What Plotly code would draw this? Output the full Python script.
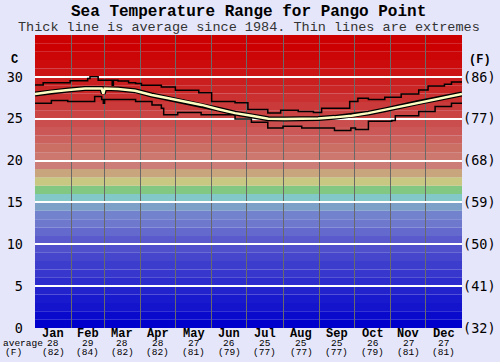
import plotly.graph_objects as go

# ---- data ----
months = ["Jan", "Feb", "Mar", "Apr", "May", "Jun", "Jul", "Aug", "Sep", "Oct", "Nov", "Dec"]
month_starts = [0, 31, 59, 90, 120, 151, 181, 212, 243, 273, 304, 334, 365]
avg_c = [28, 29, 28, 28, 27, 26, 25, 25, 25, 26, 27, 27]
avg_f = [82, 84, 82, 82, 81, 79, 77, 77, 77, 79, 81, 81]

avg_days = [0, 14, 28.5, 42.7, 57, 58.4, 59.5, 71, 85.5, 99.7, 114, 128, 142.5, 156.7, 171,
            185, 199.4, 213.7, 228, 242, 256, 270.7, 285, 299, 313.4, 327.6, 342, 356, 365]
avg_vals = [27.95, 28.23, 28.43, 28.62, 28.62, 28.0, 28.6, 28.54, 28.35, 27.83, 27.44, 27.05, 26.65,
            26.14, 25.67, 25.35, 25.0, 24.96, 24.96, 25.04, 25.16, 25.35, 25.67, 26.06, 26.54,
            26.93, 27.32, 27.72, 27.95]

max_days = [0, 7, 30, 45, 47, 54, 66, 67, 71, 80, 86, 91, 108, 120, 140, 151, 171, 182, 199,
            210, 225, 238, 245, 269, 276, 285, 299, 313, 328, 336, 350, 356, 365]
max_vals = [29.02, 29.3, 29.53, 29.8, 30.0, 29.6, 29.0, 29.6, 29.5, 29.3, 29.2, 29.0, 28.8, 28.4,
            28.1, 27.05, 26.9, 26.1, 25.67, 26.0, 25.87, 25.75, 26.26, 27.05, 27.44, 27.3, 27.56,
            27.95, 28.43, 28.9, 29.13, 29.4, 29.3]

min_days = [0, 14, 28, 51, 57, 58.4, 59.5, 66, 86, 100, 108, 110, 122, 142, 171, 185, 199, 212,
            228, 256, 270, 274, 285, 305, 308, 328, 342, 356, 365]
min_vals = [26.85, 27.17, 27.05, 27.64, 27.3, 26.85, 27.3, 27.3, 27.05, 26.65, 26.26, 25.47, 25.75,
            25.47, 24.96, 24.57, 23.9, 24.1, 23.9, 23.6, 23.9, 23.7, 24.7, 24.8, 25.35, 25.87,
            26.46, 26.85, 26.93]

c_ticks = [0, 5, 10, 15, 20, 25, 30]
f_ticks = ["(32)", "(41)", "(50)", "(59)", "(68)", "(77)", "(86)"]

band_colors = [
    (0, 0, 205), (10, 10, 205), (20, 20, 205), (25, 25, 205), (35, 35, 205), (45, 45, 205),
    (55, 55, 205), (60, 60, 205), (70, 70, 205), (80, 80, 205), (90, 90, 205), (100, 105, 205),
    (110, 120, 205), (115, 130, 205), (125, 160, 200), (130, 200, 200), (130, 200, 130),
    (200, 200, 130), (200, 165, 125), (205, 125, 120), (205, 120, 110), (203, 110, 100),
    (203, 98, 93), (203, 88, 86), (203, 78, 78), (203, 68, 68), (203, 58, 58), (203, 48, 48),
    (203, 38, 38), (203, 30, 30), (204, 20, 20), (204, 12, 12), (204, 6, 6), (204, 0, 0),
    (204, 0, 0)]

MONO = "Liberation Mono"
TOP = 35

fig = go.Figure()

shapes = []
for i, (r, g, b) in enumerate(band_colors):
    shapes.append(dict(type="rect", xref="x", yref="y", x0=0, x1=365, y0=i, y1=i + 1,
                       fillcolor=f"rgb({r},{g},{b})", line_width=0, layer="below"))

fig.add_trace(go.Scatter(x=max_days, y=max_vals, mode="lines", line=dict(color="black", width=1.5, shape="hv"),
                         hoverinfo="skip", showlegend=False))
fig.add_trace(go.Scatter(x=min_days, y=min_vals, mode="lines", line=dict(color="black", width=1.5, shape="hv"),
                         hoverinfo="skip", showlegend=False))
fig.add_trace(go.Scatter(x=avg_days, y=avg_vals, mode="lines", line=dict(color="black", width=5),
                         hoverinfo="skip", showlegend=False))
fig.add_trace(go.Scatter(x=avg_days, y=avg_vals, mode="lines", line=dict(color="rgb(255,255,195)", width=2.5),
                         hoverinfo="skip", showlegend=False))
# dummy trace for right axis
fig.add_trace(go.Scatter(x=[0], y=[0], yaxis="y2", mode="markers", marker=dict(opacity=0),
                         hoverinfo="skip", showlegend=False))

annotations = []
for i, m in enumerate(months):
    mid = (month_starts[i] + month_starts[i + 1]) / 2
    annotations.append(dict(x=mid, y=-0.019, xref="x", yref="paper", text=f"<b>{m}</b>", showarrow=False,
                            font=dict(family=MONO, size=12, color="black"), yanchor="middle"))
    annotations.append(dict(x=mid, y=-0.054, xref="x", yref="paper", text=str(avg_c[i]), showarrow=False,
                            font=dict(family=MONO, size=9.5, color="black"), yanchor="middle"))
    annotations.append(dict(x=mid, y=-0.085, xref="x", yref="paper", text=f"({avg_f[i]})", showarrow=False,
                            font=dict(family=MONO, size=9.5, color="black"), yanchor="middle"))
annotations.append(dict(x=-0.079, y=-0.054, xref="paper", yref="paper", text="average", showarrow=False,
                        font=dict(family=MONO, size=9.5, color="black"), yanchor="middle", xanchor="left"))
annotations.append(dict(x=-0.05, y=-0.085, xref="paper", yref="paper", text="(F)", showarrow=False,
                        font=dict(family=MONO, size=9.5, color="black"), yanchor="middle", xanchor="center"))
annotations.append(dict(x=-0.047, y=32.0, xref="paper", yref="y", text="<b>C</b>", showarrow=False,
                        font=dict(family=MONO, size=12, color="black"), yanchor="middle", xanchor="center"))
annotations.append(dict(x=1.043, y=32.0, xref="paper", yref="y", text="<b>(F)</b>", showarrow=False,
                        font=dict(family=MONO, size=12, color="black"), yanchor="middle", xanchor="center"))
# titles
annotations.append(dict(x=0.5, y=1.078, xref="paper", yref="paper",
                        text="<b>Sea Temperature Range for Pango Point</b>", showarrow=False,
                        font=dict(family=MONO, size=16, color="black"), yanchor="middle", xanchor="center"))
annotations.append(dict(x=0.5, y=1.026, xref="paper", yref="paper",
                        text="Thick line is average since 1984. Thin lines are extremes", showarrow=False,
                        font=dict(family=MONO, size=13.5, color="#333333"), yanchor="middle", xanchor="center"))

fig.update_layout(
    width=500, height=362,
    margin=dict(l=35, r=38, t=35, b=34),
    paper_bgcolor="rgb(230,230,250)",
    plot_bgcolor="rgb(230,230,250)",
    xaxis=dict(range=[0, 365], tickvals=month_starts[1:-1], showticklabels=False, ticks="",
               showgrid=True, gridcolor="rgb(105,105,105)", gridwidth=1, zeroline=False,
               showline=False, fixedrange=True, automargin=False),
    yaxis=dict(range=[0, TOP], tickvals=c_ticks, ticktext=[str(v) for v in c_ticks],
               showgrid=True, gridcolor="white", gridwidth=1.5, zeroline=False, ticks="",
               ticklabelstandoff=11, automargin=False,
               tickfont=dict(family="DejaVu Sans Mono", size=13.5, color="black"), showline=False),
    yaxis2=dict(range=[0, TOP], overlaying="y", side="right", tickvals=c_ticks, ticktext=f_ticks,
                showgrid=False, zeroline=False, ticks="", automargin=False,
                tickfont=dict(family="DejaVu Sans Mono", size=13.5, color="black"), showline=False),
    shapes=shapes,
    annotations=annotations,
)

fig.write_html("out.html", config={"displayModeBar": False},
               post_script="document.body.style.margin='0px';")
